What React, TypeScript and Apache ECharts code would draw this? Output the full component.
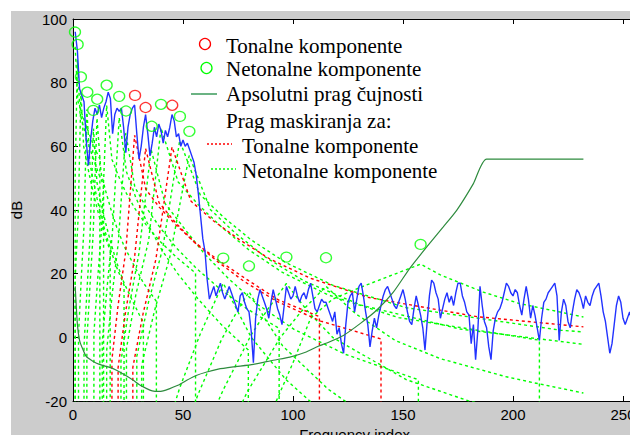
import React, { useEffect, useRef } from "react";
import * as echarts from "echarts";

// Spectrum (dB) for frequency index 1..256
const spectrumDb = [
  96, 90, 78, 76, 74, 62, 54, 62, 68, 72,
  70, 73, 69, 72, 74, 77, 75, 64, 70, 72,
  71, 72, 66, 58, 66, 70, 72, 73, 64, 56,
  60, 66, 70, 64, 57, 61, 66, 63, 67, 65,
  61, 65, 63, 66, 70, 68, 63, 64, 60, 62,
  60, 61, 59, 57, 55, 51, 45, 38, 31, 27,
  18, 12, 14, 16, 13, 15, 17, 14, 12, 14,
  16, 14, 12, 10, 8, 13, 14, 11, 9, 8,
  2, -8, 6, 12, 15, 13, 11, 9, 6, 11,
  15, 12, 9, 7, 4, 10, 16, 14, 12, 13,
  16, 13, 11, 13, 14, 12, 15, 17, 13, 9,
  8, 10, 12, 11, 11, 9, 7, 5, 8, 1,
  3, -2, -5, 4, 11, 13, 14, 8, 12, 16,
  17, 13, 8, 4, -3, 2, 6, 3, 7, 10,
  13, 15, 16, 14, 12, 10, 9, 11, 13, 15,
  12, 8, 5, 4, 9, 13, 10, 7, 3, -4,
  5, 13, 18, 17, 14, 12, 6, 9, 12, 14,
  11, 13, 10, 14, 17, 17, 13, 11, 8, 7,
  -2, 4, -7, 2, 16, 10, 5, 3, -3, -7,
  2, 6, 8, 9, 11, 14, 17, 16, 14, 13,
  15, 14, 10, 7, 12, 16, 12, 6, 10, 7,
  3, -1, 6, 11, 12, 14, 15, 16, 17, 13,
  -1, 8, 12, 10, 5, 3, 8, 12, 15, 14,
  12, 9, 13, 11, 10, 13, 15, 16, 17, 13,
  8, 5, 0, -5, -2, 4, 10, 13, 11, 6,
  4, 6, 8, 5, 3, 4,
];

const tonalIdx = [28.2, 33, 45.1];
const tonalDb = [76, 72.2, 72.9];

const nontonalIdx = [0.9, 2.1, 3.6, 6.5, 9.2, 11, 15.3, 21, 24.1, 35.8, 40, 48.6, 52.9, 68.3, 80, 97, 115, 158];
const nontonalDb = [95.9, 92, 81.8, 77, 71.3, 74.8, 79.2, 75.7, 71.1, 66.3, 73.2, 69.4, 64.7, 24.9, 22.4, 25.2, 25, 29.2];

const athIdx = [1, 2, 3, 4, 6, 9, 12, 16, 20, 24, 27.4, 30, 33.5, 36, 38.8, 41, 44, 48, 51.7, 56, 60.8, 66, 72.9, 82, 91, 98.6, 106, 111.5, 115.3, 122.9, 130.5, 138, 145.6, 153, 160.8, 168.3, 174.4, 182, 188, 232];
const athDb = [16, 4, -1, -3, -6, -7.5, -8.5, -9.3, -10.4, -12, -13.5, -14.8, -16.1, -16.8, -17, -16.8, -16.1, -15, -13.5, -12, -10.9, -10, -9.3, -8.5, -7.2, -6.2, -4.6, -2.8, -1.8, 0.6, 4.3, 8.5, 14.2, 21.6, 28.4, 34.7, 39.9, 48.3, 56, 56];

// Masking thresholds of tonal components: [index, dB]
const tonalMasks = [
  [[17.7, -40], [17.7, -6.9], [20.5, 10.1], [24, 27.1], [28, 63.5], [33.1, 46.5], [39.2, 40.9], [46.8, 35.3], [55.6, 29.7], [66.3, 24.1], [78.3, 18.5], [93.2, 11.8], [112, 6.5], [112, -40]],
  [[20.5, -40], [20.5, -9.5], [23.8, 7.5], [27.9, 24.5], [33, 59.3], [39.1, 42.3], [46.5, 36.1], [55.1, 29.9], [65.9, 23.7], [77.9, 17.5], [92.6, 11.3], [112.6, 5.1], [140, -0.5], [140, -40]],
  [[27.2, -40], [27.2, -9.4], [31.9, 7.6], [37.7, 24.6], [45, 59.8], [53.6, 42.8], [63.6, 36.7], [75.6, 30.7], [89.5, 24.6], [107.8, 18.6], [134.5, 12.5], [183.6, 6.5], [232, 3.3]],
];

// Masking thresholds of non-tonal components: [index, dB]
const nontonalMasks = [
  [[1, 91.3], [2.2, 74.3], [3.4, 71.7], [4.6, 69.1], [5.95, 66.5], [7.4, 63.9], [8.8, 61.3], [10.3, 58.7], [12.2, 56.1], [12.2, -40]],
  [[1, -40], [1, 51.2], [2, 87.2], [3.2, 70.2], [4.45, 67], [5.75, 63.8], [7.1, 60.6], [8.6, 57.4], [10.2, 54.2], [11.9, 51], [13.9, 47.8], [13.9, -40]],
  [[1, -40], [1, 18.6], [1.18, 21.2], [2.37, 38.2], [3.6, 77], [4.85, 60], [6.15, 55.3], [7.57, 50.6], [9.06, 45.9], [10.7, 41.2], [12.5, 36.5], [14.6, 31.8], [16.9, 27.1], [16.9, -40]],
  [[2.5, -40], [2.5, 0.8], [3.7, 17.8], [5, 34.8], [6.3, 71.6], [7.7, 54.6], [9.2, 49.2], [10.9, 43.7], [12.7, 38.2], [14.8, 32.8], [17.2, 27.3], [19.9, 21.9], [23.2, 16.4], [23.2, -40]],
  [[5, -40], [5, -2.9], [6.3, 14.1], [7.7, 31.1], [9.3, 65.6], [10.9, 48.6], [12.7, 42.3], [14.8, 36], [17.2, 29.7], [19.9, 23.4], [23.2, 17.1], [27.5, 10.8], [32, 4.5], [32, -40]],
  [[6.3, -40], [6.3, -1], [7.7, 16], [9.2, 33], [10.9, 68.9], [12.7, 51.9], [14.8, 46.1], [17.2, 40.3], [19.9, 34.5], [23.2, 28.7], [27.5, 22.9], [32, 17.1], [37.9, 11.3], [37.9, -40]],
  [[9.5, -40], [9.5, 1.2], [11.2, 18.2], [13.1, 35.2], [15.3, 72.9], [17.7, 55.9], [20.6, 50.8], [23.9, 45.7], [28, 40.6], [33.1, 35.5], [39.2, 30.4], [46.8, 25.3], [55.7, 20.2], [55.7, -40]],
  [[13.3, -40], [13.3, -1.3], [15.5, 15.7], [17.9, 32.7], [21, 69], [24.3, 52], [28.5, 44], [33.7, 36], [39.9, 28], [47.6, 20], [56.9, 12], [67.4, 4], [79.7, -4], [79.7, -40]],
  [[15.3, -40], [15.3, -4.2], [17.7, 12.8], [20.6, 29.8], [24, 64.2], [28.1, 47.2], [33.3, 40.8], [39.5, 34.5], [47, 28.1], [55.9, 21.8], [66.3, 15.5], [78.8, 9.1], [93.7, 2.8], [93.7, -40]],
  [[21.8, -40], [21.8, -7.5], [25.5, 9.5], [30, 26.5], [35.5, 59], [41.9, 42], [50.7, 34.1], [59.8, 26.2], [70.9, 18.3], [83.8, 10.4], [100.5, 2.5], [124, -5.4], [157, -13.3], [157, -40]],
  [[24.3, -40], [24.3, -3.5], [28.6, 13.5], [34.4, 30.5], [40, 65.8], [47.8, 48.8], [56.9, 41.7], [67.6, 34.6], [79.9, 27.5], [95.2, 20.4], [116, 13.3], [148, 6.2], [212, -0.9], [212, -40]],
  [[29, -40], [29, -6], [34.3, 11], [40.8, 28], [48.5, 61.8], [57.8, 44.8], [68.5, 37.7], [81, 30.6], [96.7, 23.5], [118, 16.4], [151.5, 9.3], [222, 2.2], [232, 1.7]],
  [[31.2, -40], [31.2, -8.8], [37, 8.2], [44, 25.2], [52.8, 57.1], [62.5, 40.1], [74, 32.6], [87.7, 25.1], [105.3, 17.6], [131, 10.1], [176, 2.6], [232, -2.2]],
  [[44.6, -24.5], [48.5, -15.9], [57.8, 1], [63, 9], [68.3, 17], [74.6, 8.5], [81, 0], [96.7, -13.2], [118, -26.5]],
  [[52.2, -26.2], [57, -17.7], [67.5, -0.7], [73.5, 6.8], [80, 14.3], [87.3, 5.8], [95.3, -2.7], [116, -16.3], [130, -23.1]],
  [[63, -24.7], [68.5, -16.2], [81, 0.8], [88.5, 8.8], [97, 16.9], [106.4, 8.4], [118.2, -0.1], [151.5, -13.3], [179.5, -19.9], [222, -26.5]],
  [[73.5, -25.5], [79.3, -17], [94.3, 0], [103.6, 8], [115, 16], [128.3, 7.5], [146.5, -1], [167, -6.7], [197, -12.4], [209, -14.2], [232, -17.5]],
  [[88, -27], [100, -8], [108, 6], [118, 12], [131, 15.8], [158, 23], [167, 19.6], [186.5, 14.2], [203, 10.6], [232, 6.4]],
];

const GREEN = "#00ff00";
const RED = "#ff0000";
const BLUE = "#2233ff";
const ATH_COLOR = "#2e8b3e";
const SANS = "Liberation Sans";
const SERIF = "Liberation Serif";

export default function App() {
  const ref = useRef<HTMLDivElement>(null);

  useEffect(() => {
    if (!ref.current) return;
    const chart = echarts.init(ref.current, undefined, { renderer: "svg" });

    const maskSeries = (curves: number[][][], color: string) =>
      curves.map((c) => ({
        type: "line",
        data: c,
        symbol: "none",
        silent: true,
        clip: true,
        z: 2,
        lineStyle: { color, width: 1.4, type: [3, 3] },
      }));

    const axisCommon = {
      axisLine: { show: true, onZero: false, lineStyle: { color: "#000", width: 1 } },
      axisTick: { show: true, inside: true, length: 5, lineStyle: { color: "#000" } },
      splitLine: { show: false },
    };

    const legendText = (text: string, x: number, y: number) => ({
      type: "text",
      x,
      y,
      silent: true,
      style: {
        text,
        fill: "#000",
        font: `21px "${SERIF}"`,
        textAlign: "left",
        textVerticalAlign: "middle",
      },
    });

    const option: any = {
      animation: false,
      backgroundColor: "#cccccc",
      grid: {
        left: 73,
        top: 19,
        width: 563.2,
        height: 382,
        show: true,
        backgroundColor: "#ffffff",
        borderWidth: 0,
        containLabel: false,
        outerBoundsMode: "none",
      },
      xAxis: [
        {
          type: "value",
          position: "bottom",
          min: 0,
          max: 256,
          interval: 50,
          ...axisCommon,
          axisLabel: {
            margin: 6,
            fontSize: 15,
            fontFamily: SANS,
            color: "#000",
            showMaxLabel: false,
          },
          name: "Frequency index",
          nameLocation: "middle",
          nameGap: 24,
          nameTextStyle: { fontSize: 15, fontFamily: SANS, color: "#000" },
        },
        {
          type: "value",
          position: "top",
          min: 0,
          max: 256,
          interval: 50,
          ...axisCommon,
          axisLabel: { show: false },
        },
      ],
      yAxis: {
        type: "value",
        min: -20,
        max: 100,
        interval: 20,
        ...axisCommon,
        axisLabel: { margin: 6, fontSize: 15, fontFamily: SANS, color: "#000" },
        name: "dB",
        nameLocation: "middle",
        nameGap: 49,
        nameTextStyle: { fontSize: 15, fontFamily: SANS, color: "#000" },
      },
      graphic: {
        elements: [
          { type: "rect", silent: true, shape: { x: 0, y: 0, width: 630, height: 11 }, style: { fill: "#fff" } },
          { type: "rect", silent: true, shape: { x: 0, y: 0, width: 11, height: 435 }, style: { fill: "#fff" } },
          { type: "circle", silent: true, shape: { cx: 205, cy: 44, r: 5.5 }, style: { fill: "none", stroke: RED, lineWidth: 1.3 } },
          { type: "circle", silent: true, shape: { cx: 206.5, cy: 68, r: 5.5 }, style: { fill: "none", stroke: GREEN, lineWidth: 1.3 } },
          { type: "line", silent: true, shape: { x1: 191, y1: 94, x2: 217, y2: 94 }, style: { stroke: "#3a9a5a", lineWidth: 1.5 } },
          { type: "line", silent: true, shape: { x1: 207, y1: 144, x2: 232, y2: 144 }, style: { stroke: RED, lineWidth: 1.3, lineDash: [2, 2] } },
          { type: "line", silent: true, shape: { x1: 211, y1: 169, x2: 236, y2: 169 }, style: { stroke: GREEN, lineWidth: 1.3, lineDash: [2, 2] } },
          legendText("Tonalne komponente", 226, 45.5),
          legendText("Netonalne komponente", 226, 69),
          legendText("Apsolutni prag čujnosti", 226, 93.5),
          legendText("Prag maskiranja za:", 226, 121),
          legendText("Tonalne komponente", 242, 145.5),
          legendText("Netonalne komponente", 242, 170.5),
        ],
      },
      series: [
        ...maskSeries(nontonalMasks, GREEN),
        ...maskSeries(tonalMasks, RED),
        {
          type: "line",
          data: spectrumDb.map((v, i) => [i + 1, v]),
          symbol: "none",
          silent: true,
          z: 3,
          lineStyle: { color: BLUE, width: 1.4 },
        },
        {
          type: "line",
          data: athIdx.map((x, i) => [x, athDb[i]]),
          symbol: "none",
          silent: true,
          smooth: 0.2,
          z: 4,
          lineStyle: { color: ATH_COLOR, width: 1.2 },
        },
        {
          type: "scatter",
          data: tonalIdx.map((x, i) => [x, tonalDb[i]]),
          symbol: "circle",
          symbolSize: [11, 10],
          silent: true,
          z: 5,
          itemStyle: { color: "transparent", borderColor: RED, borderWidth: 1.3 },
        },
        {
          type: "scatter",
          data: nontonalIdx.map((x, i) => [x, nontonalDb[i]]),
          symbol: "circle",
          symbolSize: [11, 10],
          silent: true,
          z: 5,
          itemStyle: { color: "transparent", borderColor: GREEN, borderWidth: 1.3 },
        },
      ],
    };

    chart.setOption(option);
    return () => chart.dispose();
  }, []);

  return (
    <div
      ref={ref}
      style={{ position: "absolute", left: 0, top: 0, width: 630, height: 435 }}
    />
  );
}
